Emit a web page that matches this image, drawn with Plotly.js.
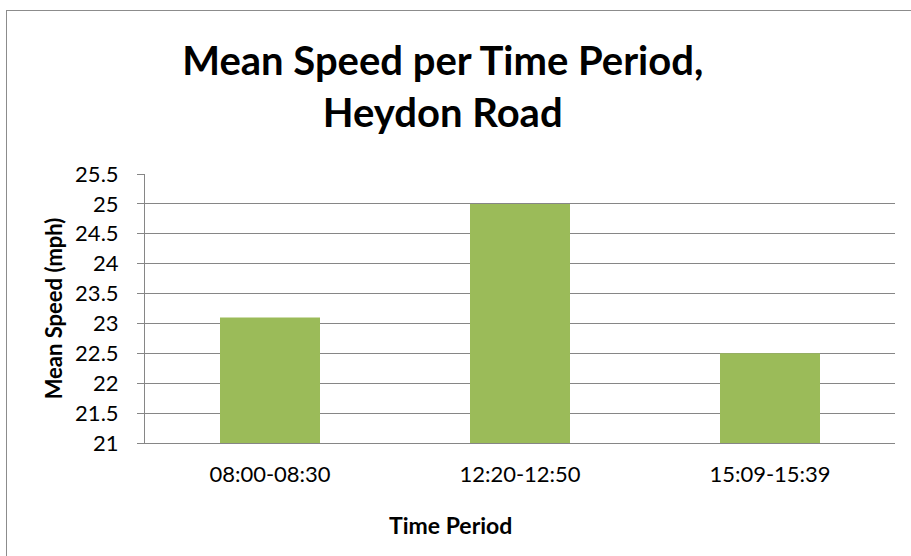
<!DOCTYPE html>
<html>
<head>
<meta charset="utf-8">
<script src="https://cdn.plot.ly/plotly-3.0.1.min.js"></script>
<style>
  html, body { margin: 0; padding: 0; background: #fff; }
  #wrap { position: relative; width: 911px; height: 556px; overflow: hidden; }
  #chart { position: absolute; left: 0; top: 0; width: 911px; height: 556px; }
  #frame { position: absolute; left: 6px; top: 10px; width: 1000px; height: 700px;
           border: 1px solid #8c8c8c; box-sizing: border-box; pointer-events: none; }
</style>
</head>
<body>
<div id="wrap">
  <div id="chart"></div>
  <div id="frame"></div>
</div>
<script>
const categories = ["08:00-08:30", "12:20-12:50", "15:09-15:39"];
const meanSpeed = [23.1, 25.0, 22.5];
const yTickValues = [21, 21.5, 22, 22.5, 23, 23.5, 24, 24.5, 25, 25.5];
const yTickLabels = ["21", "21.5", "22", "22.5", "23", "23.5", "24", "24.5", "25", "25.5"];
const chartTitle = "Mean Speed per Time Period,<br>Heydon Road";
const xTitle = "Time Period";
const yTitle = "Mean Speed (mph)";

const FONT = "Lato, Open Sans, sans-serif";

const trace = {
  type: "bar",
  x: categories,
  y: meanSpeed,
  marker: { color: "#9bbb59" },
  hoverinfo: "x+y"
};

const layout = {
  width: 911,
  height: 556,
  margin: { l: 145, r: 16, t: 174, b: 113 },
  paper_bgcolor: "#ffffff",
  plot_bgcolor: "#ffffff",
  showlegend: false,
  bargap: 0.6,
  font: { family: FONT, color: "#000000", size: 22 },
  title: {
    text: "<b>" + chartTitle + "</b>",
    font: { family: FONT, size: 40, color: "#000000" },
    x: 0.486,
    xanchor: "center",
    xref: "container",
    yref: "container",
    y: 0.866,
    yanchor: "top"
  },
  xaxis: {
    type: "category",
    showgrid: false,
    showline: true,
    linecolor: "#868686",
    linewidth: 1,
    ticks: "",
    ticklabelstandoff: 12,
    tickfont: { family: FONT, size: 22, color: "#000000" },
    fixedrange: true
  },
  yaxis: {
    range: [21, 25.5],
    tickvals: yTickValues,
    ticktext: yTickLabels,
    showgrid: true,
    gridcolor: "#868686",
    gridwidth: 1,
    showline: true,
    linecolor: "#868686",
    linewidth: 1,
    ticks: "outside",
    ticklen: 7,
    tickcolor: "#868686",
    ticklabelstandoff: 14,
    tickfont: { family: FONT, size: 22, color: "#000000" },
    zeroline: false,
    title: { text: "<b>" + yTitle + "</b>", font: { family: FONT, size: 22, color: "#000000" }, standoff: 6 },
    fixedrange: true
  },
  annotations: [{
    text: "<b>" + xTitle + "</b>",
    xref: "paper", yref: "paper",
    x: 0.407, y: -0.305,
    xanchor: "center", yanchor: "middle",
    showarrow: false,
    font: { family: FONT, size: 23, color: "#000000" }
  }]
};

Plotly.newPlot("chart", [trace], layout, { displayModeBar: false, staticPlot: true });
</script>
</body>
</html>
